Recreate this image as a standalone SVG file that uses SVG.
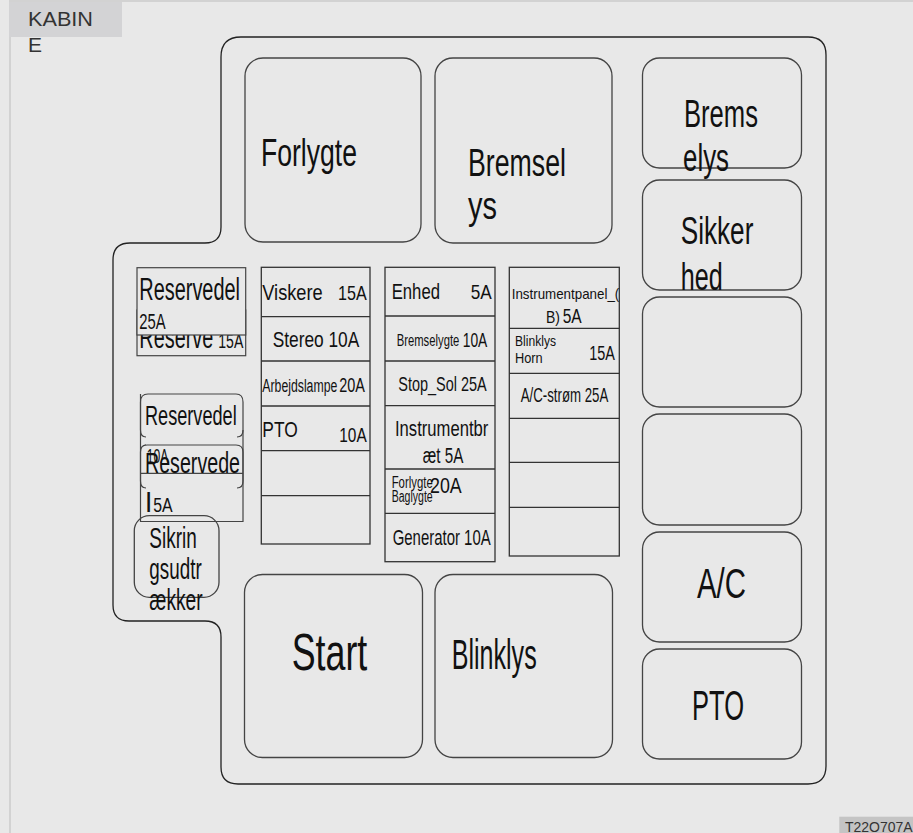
<svg xmlns="http://www.w3.org/2000/svg" width="913" height="833" viewBox="0 0 913 833">
<style>
text{font-family:"Liberation Sans Narrow","Liberation Sans",Arial,sans-serif;fill:#111;}
.hdr{fill:#333;font-family:"Liberation Sans",Arial,sans-serif;}
.relay{fill:none;stroke:#444;stroke-width:1.3;}
.fuse{fill:none;stroke:#333;stroke-width:1.3;}
.spare{fill:#e8e8e8;stroke:#444;stroke-width:1.2;}
.ln{fill:none;stroke:#444;stroke-width:1.2;}
</style>
<rect x="0" y="0" width="913" height="833" fill="#e8e8e8"/>
<rect x="10" y="1" width="910" height="840" fill="#e8e8e8" stroke="#d2d2d2" stroke-width="2"/>
<g id="header">
<rect x="9" y="2" width="113" height="35" fill="#d3d3d5"/>
<text class="hdr" x="28" y="26" font-size="21" textLength="65" lengthAdjust="spacingAndGlyphs">KABIN</text>
<text class="hdr" x="28" y="52" font-size="21">E</text>
</g>
<g id="outline">
<path d="M241 37 H808 Q826 37 826 55 V766 Q826 784 808 784 H238 Q221 784 221 767 V637 Q221 621 205 621 H129 Q113 621 113 605 V260 Q113 243 130 243 H205 Q221 243 221 227 V57 Q221 37 241 37 Z" fill="none" stroke="#222" stroke-width="1.3"/>
</g>
<g id="relay-forlygte">
<rect class="relay" x="245" y="58" width="176" height="184" rx="18"/>
<text x="261" y="166" font-size="38" textLength="96" lengthAdjust="spacingAndGlyphs">Forlygte</text>
</g>
<g id="relay-bremselys-center">
<rect class="relay" x="435" y="58" width="177" height="185" rx="18"/>
<text x="468" y="176" font-size="38" textLength="98" lengthAdjust="spacingAndGlyphs">Bremsel</text>
<text x="468" y="219" font-size="38" textLength="29" lengthAdjust="spacingAndGlyphs">ys</text>
</g>
<g id="relay-bremselys">
<rect class="relay" x="642.5" y="58" width="159" height="110" rx="17"/>
<text x="684" y="127" font-size="38" textLength="74" lengthAdjust="spacingAndGlyphs">Brems</text>
<text x="683" y="171" font-size="38" textLength="46" lengthAdjust="spacingAndGlyphs">elys</text>
</g>
<g id="relay-sikkerhed">
<rect class="relay" x="642.5" y="180" width="159" height="110" rx="17"/>
<text x="680.7" y="244" font-size="38" textLength="72.7" lengthAdjust="spacingAndGlyphs">Sikker</text>
<text x="680.7" y="290" font-size="38" textLength="42" lengthAdjust="spacingAndGlyphs">hed</text>
</g>
<g id="relay-empty-1">
<rect class="relay" x="642.5" y="297" width="159" height="110" rx="17"/>
</g>
<g id="relay-empty-2">
<rect class="relay" x="642.5" y="414" width="159" height="111" rx="17"/>
</g>
<g id="relay-ac">
<rect class="relay" x="642.5" y="532" width="159" height="110" rx="17"/>
<text x="697" y="598" font-size="42" textLength="49" lengthAdjust="spacingAndGlyphs">A/C</text>
</g>
<g id="relay-pto">
<rect class="relay" x="642.5" y="649" width="159" height="110" rx="17"/>
<text x="692" y="720" font-size="42" textLength="52" lengthAdjust="spacingAndGlyphs">PTO</text>
</g>
<g id="relay-start">
<rect class="relay" x="244.5" y="574.5" width="178" height="183" rx="18"/>
<text x="291.7" y="670" font-size="52" textLength="75.6" lengthAdjust="spacingAndGlyphs">Start</text>
</g>
<g id="relay-blinklys">
<rect class="relay" x="435" y="574.5" width="177.5" height="183" rx="18"/>
<text x="451.7" y="669.3" font-size="42" textLength="85" lengthAdjust="spacingAndGlyphs">Blinklys</text>
</g>
<g id="fuses-col1">
<rect class="fuse" x="261.3" y="267.3" width="108.7" height="276.7"/>
<path class="fuse" d="M261.3 316.7 H370 M261.3 361 H370 M261.3 406 H370 M261.3 450.7 H370 M261.3 495.7 H370"/>
<text x="262.3" y="300" font-size="22" textLength="60.4" lengthAdjust="spacingAndGlyphs">Viskere</text>
<text x="338" y="300" font-size="21" textLength="28.7" lengthAdjust="spacingAndGlyphs">15A</text>
<text x="272.7" y="347.3" font-size="22" textLength="86.6" lengthAdjust="spacingAndGlyphs">Stereo 10A</text>
<text x="262.3" y="391.7" font-size="18" textLength="75" lengthAdjust="spacingAndGlyphs">Arbejdslampe</text>
<text x="339.3" y="392.3" font-size="21" textLength="25.7" lengthAdjust="spacingAndGlyphs">20A</text>
<text x="262.3" y="436.7" font-size="22" textLength="35.4" lengthAdjust="spacingAndGlyphs">PTO</text>
<text x="339.3" y="441.7" font-size="21" textLength="27.4" lengthAdjust="spacingAndGlyphs">10A</text>
</g>
<g id="fuses-col2">
<rect class="fuse" x="385" y="267.3" width="110" height="294.4"/>
<path class="fuse" d="M385 316 H495 M385 361 H495 M385 405.7 H495 M385 469 H495 M385 513.3 H495"/>
<text x="391.7" y="299.3" font-size="22" textLength="48.3" lengthAdjust="spacingAndGlyphs">Enhed</text>
<text x="470.7" y="299.3" font-size="21" textLength="21" lengthAdjust="spacingAndGlyphs">5A</text>
<text x="396.7" y="346" font-size="17" textLength="62.6" lengthAdjust="spacingAndGlyphs">Bremselygte</text>
<text x="462.7" y="347.3" font-size="20" textLength="24.6" lengthAdjust="spacingAndGlyphs">10A</text>
<text x="398.3" y="390.7" font-size="21" textLength="88.4" lengthAdjust="spacingAndGlyphs">Stop_Sol 25A</text>
<text x="395" y="436" font-size="22" textLength="93.3" lengthAdjust="spacingAndGlyphs">Instrumentbr</text>
<text x="422.7" y="463.3" font-size="22" textLength="40.6" lengthAdjust="spacingAndGlyphs">æt 5A</text>
<text x="391.7" y="487.7" font-size="16" textLength="41" lengthAdjust="spacingAndGlyphs">Forlygte</text>
<text x="391.7" y="501.5" font-size="16" textLength="41" lengthAdjust="spacingAndGlyphs">Baglygte</text>
<text x="430" y="493.3" font-size="22" textLength="31.7" lengthAdjust="spacingAndGlyphs">20A</text>
<text x="392.7" y="545" font-size="22" textLength="98" lengthAdjust="spacingAndGlyphs">Generator 10A</text>
</g>
<g id="fuses-col3">
<rect class="fuse" x="509.3" y="267.3" width="110" height="288.7"/>
<path class="fuse" d="M509.3 328.3 H619.3 M509.3 373.3 H619.3 M509.3 418.3 H619.3 M509.3 462.3 H619.3 M509.3 507.3 H619.3"/>
<text x="511.7" y="299.3" font-size="15" textLength="107.6" lengthAdjust="spacingAndGlyphs">Instrumentpanel_(</text>
<text x="546" y="322.7" font-size="16" textLength="14" lengthAdjust="spacingAndGlyphs">B)</text>
<text x="562.7" y="322.7" font-size="20" textLength="19" lengthAdjust="spacingAndGlyphs">5A</text>
<text x="515" y="346" font-size="15" textLength="41" lengthAdjust="spacingAndGlyphs">Blinklys</text>
<text x="515" y="363.3" font-size="15" textLength="27.7" lengthAdjust="spacingAndGlyphs">Horn</text>
<text x="589.3" y="360" font-size="20" textLength="25.7" lengthAdjust="spacingAndGlyphs">15A</text>
<text x="520.7" y="401.7" font-size="21" textLength="87.6" lengthAdjust="spacingAndGlyphs">A/C-strøm 25A</text>
</g>
<g id="spare-reserve-15a">
<rect class="spare" x="137" y="310" width="108.7" height="45.7"/>
<text x="139.3" y="348.3" font-size="31" textLength="74" lengthAdjust="spacingAndGlyphs">Reserve</text>
<text x="218.3" y="348.3" font-size="20" textLength="25" lengthAdjust="spacingAndGlyphs">15A</text>
</g>
<g id="spare-reservedel-25a">
<rect class="spare" x="137" y="267.7" width="108.7" height="67.3"/>
<text x="139.3" y="300" font-size="31" textLength="100.7" lengthAdjust="spacingAndGlyphs">Reservedel</text>
<text x="139.3" y="329.3" font-size="22" textLength="26.4" lengthAdjust="spacingAndGlyphs">25A</text>
</g>
<g id="spare-group-lower">
<path class="ln" d="M140.5 402 Q140.5 394 148 394 H236 Q243 394 243 402 V521.5 H140.5 Z"/>
<path class="ln" d="M140.5 394 V430 Q140.5 437 146 437 M243 430 Q243 437 237 437"/>
<path class="ln" d="M146 445 Q140.5 445 140.5 452 V481 Q140.5 488 146 488 M140.5 452 Q140.5 445 147 445 H236 Q243 445 243 452 V481 Q243 488 237 488 M140.5 473.3 H243"/>
</g>
<g id="spare-reservedel-10a">
<text x="145" y="425" font-size="28" textLength="91.7" lengthAdjust="spacingAndGlyphs">Reservedel</text>
<text x="146.7" y="463.3" font-size="20" textLength="21.6" lengthAdjust="spacingAndGlyphs">10A</text>
</g>
<g id="spare-reservedel-5a">
<text x="145" y="473.3" font-size="29" textLength="95" lengthAdjust="spacingAndGlyphs">Reservede</text>
<text x="145.5" y="511.7" font-size="28">l</text>
<text x="153.3" y="511.7" font-size="20" textLength="19.4" lengthAdjust="spacingAndGlyphs">5A</text>
</g>
<g id="fuse-puller">
<rect class="relay" x="134.3" y="515.7" width="84.7" height="81.6" rx="15"/>
<text x="149.3" y="548.3" font-size="30" textLength="47.4" lengthAdjust="spacingAndGlyphs">Sikrin</text>
<text x="149.3" y="579" font-size="30" textLength="52.4" lengthAdjust="spacingAndGlyphs">gsudtr</text>
<text x="149.3" y="610" font-size="30" textLength="53.4" lengthAdjust="spacingAndGlyphs">ækker</text>
</g>
<g id="footer-code">
<rect x="839.3" y="816.7" width="74" height="17" fill="#c4c4c4"/>
<text class="hdr" x="845" y="831.7" font-size="14" textLength="67.7" lengthAdjust="spacingAndGlyphs">T22O707A</text>
</g>
</svg>
